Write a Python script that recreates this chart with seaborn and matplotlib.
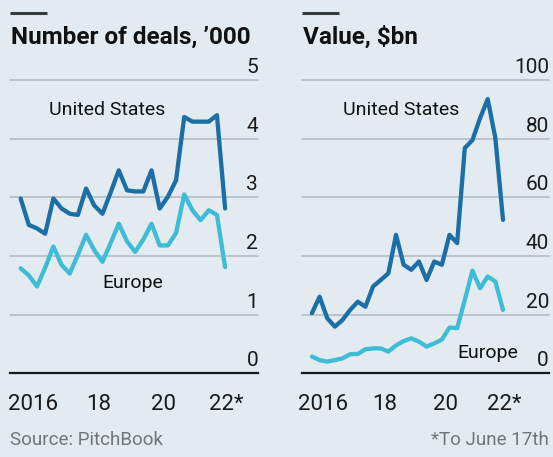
import numpy as np
import pandas as pd
import matplotlib.pyplot as plt
import matplotlib.transforms as mtransforms
import seaborn as sns

# quarterly data, 2016Q1 - 2022Q2 (to June 17th)
quarters = pd.period_range('2016Q1', '2022Q2', freq='Q')
us_deals = [2.98, 2.53, 2.47, 2.38, 2.98, 2.81, 2.72, 2.70, 3.15, 2.86, 2.72, 3.08, 3.46,
            3.12, 3.10, 3.10, 3.46, 2.81, 3.01, 3.29, 4.37, 4.29, 4.29, 4.29, 4.40, 2.81]
europe_deals = [1.79, 1.67, 1.48, 1.80, 2.16, 1.85, 1.70, 2.02, 2.36, 2.10, 1.90, 2.22, 2.55,
                2.25, 2.07, 2.28, 2.55, 2.18, 2.18, 2.39, 3.05, 2.78, 2.61, 2.78, 2.70, 1.81]
us_value = [20.5, 26.1, 18.8, 15.9, 18.2, 21.6, 24.4, 22.7, 29.6, 31.8, 34.1, 47.2, 37.0,
            35.3, 38.1, 31.8, 38.1, 37.0, 47.2, 44.4, 76.8, 79.5, 87.0, 93.5, 80.2, 52.3]
europe_value = [5.7, 4.5, 4.0, 4.5, 5.1, 6.5, 6.6, 8.2, 8.5, 8.5, 7.4, 9.5, 11.0,
                11.9, 10.8, 9.1, 10.2, 11.5, 15.6, 15.4, 25.0, 35.0, 29.0, 33.0, 31.3, 21.6]
year_labels = ['2016', '18', '20', '22*']
year_label_pos = [2016.5, 2018.5, 2020.5, 2022.4]

bg = '#e3ebf1'
us_col = '#1b6fa5'
eu_col = '#3ebcd6'
grid_col = '#b6c0c7'

sns.set_style('white')
plt.rcParams['font.family'] = ['Roboto', 'DejaVu Sans']

x = quarters.year + (quarters.quarter - 0.5) / 4
df = pd.DataFrame({'x': np.tile(x, 2),
                   'deals': us_deals + europe_deals,
                   'value': us_value + europe_value,
                   'region': ['United States'] * 26 + ['Europe'] * 26})

fig = plt.figure(figsize=(5.53, 4.57), dpi=100, facecolor=bg)
H = 457
W = 553
bottom = 1 - 373.3 / H
height = 293.3 / H
ax1 = fig.add_axes([10 / W, bottom, 248 / W, height])
ax2 = fig.add_axes([301.7 / W, bottom, 247.3 / W, height])

panels = [
    (ax1, 'deals', [0, 1, 2, 3, 4, 5], (2015.80, 2023.38),
     'Number of deals, \u2019000', (2018.78, 4.49), (2019.55, 1.54)),
    (ax2, 'value', [0, 20, 40, 60, 80, 100], (2015.79, 2023.88),
     'Value, $bn', (2019.06, 89.9), (2021.89, 6.8)),
]

for ax, col, yticks, xlim, title, us_pos, eu_pos in panels:
    ax.set_facecolor(bg)
    for yv in yticks[1:]:
        ax.axhline(yv, color=grid_col, lw=1.3, zorder=0, clip_on=False)
    sns.lineplot(data=df, x='x', y=col, hue='region', ax=ax,
                 palette={'United States': us_col, 'Europe': eu_col},
                 linewidth=3.1, legend=False, zorder=3)
    ax.set_xlim(*xlim)
    ax.set_ylim(yticks[0], yticks[-1])
    ax.set_xlabel('')
    ax.set_ylabel('')
    for s in ['top', 'left', 'right']:
        ax.spines[s].set_visible(False)
    ax.spines['bottom'].set_color('#1a1a1a')
    ax.spines['bottom'].set_linewidth(1.6)
    ax.set_yticks([])
    ax.set_xticks(np.arange(2016, 2023), labels=[''] * 7)
    ax.set_xticks(np.arange(2016, 2022.51, 0.25), minor=True)
    ax.tick_params(axis='x', which='major', length=7, width=1.1, color='#1a1a1a', direction='out')
    ax.tick_params(axis='x', which='minor', length=4.5, width=1.1, color='#1a1a1a', direction='out')

    ytr = mtransforms.blended_transform_factory(ax.transAxes, ax.transData)
    for yv in yticks:
        ax.text(1.0, yv + (yticks[-1] / 5) * 0.05, str(yv), transform=ytr, ha='right', va='bottom',
                fontsize=15, color='#1a1a1a')
    xtr = mtransforms.blended_transform_factory(ax.transData, ax.transAxes)
    for lab, pos in zip(year_labels, year_label_pos):
        ax.text(pos, -0.105, lab, transform=xtr, ha='center', va='center',
                fontsize=16, color='#1a1a1a')

    ax.text(us_pos[0], us_pos[1], 'United States', ha='center', va='center',
            fontsize=14, color='#111111')
    ax.text(eu_pos[0], eu_pos[1], 'Europe', ha='center', va='center',
            fontsize=14, color='#111111')

    # title and short tag line
    ax.text(0.005, 1.0 + 43 / 293.3, title, transform=ax.transAxes, ha='left', va='center',
            fontsize=17.5, fontweight='bold', color='#111111')
    ax.plot([0, 37 / 248], [1 + 67 / 293.3] * 2, transform=ax.transAxes,
            color='#3a3a3a', lw=2.2, clip_on=False, solid_capstyle='butt')

fig.text(10 / W, 1 - 440 / H, 'Source: PitchBook', ha='left', va='center',
         fontsize=13.5, color='#747474')
fig.text(549 / W, 1 - 440 / H, '*To June 17th', ha='right', va='center',
         fontsize=13.5, color='#747474')

fig.savefig('out.png', dpi=100, facecolor=bg)
